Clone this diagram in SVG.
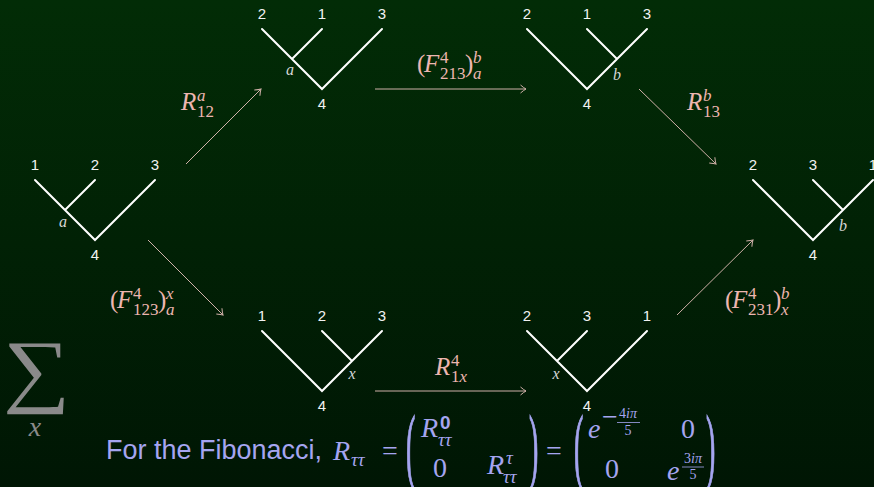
<svg xmlns="http://www.w3.org/2000/svg" width="874" height="487" viewBox="0 0 874 487">
<defs>
<linearGradient id="bg" x1="0" y1="0" x2="0" y2="1">
<stop offset="0" stop-color="#022c06"/>
<stop offset="1" stop-color="#001604"/>
</linearGradient>
<marker id="arr" markerUnits="userSpaceOnUse" markerWidth="12" markerHeight="12" viewBox="-8 -6 10 12" refX="0" refY="0" orient="auto">
<path d="M-5.5,-4 Q-2,-1 0,0 Q-2,1 -5.5,4" fill="none" stroke="#cfb0a8" stroke-width="1"/>
</marker>
<style>
.tree{fill:none;stroke:#ffffff;stroke-width:2;stroke-linecap:round;stroke-linejoin:miter}
.num{font-family:"Liberation Sans",Arial,sans-serif;font-size:15px;fill:#f2f2f2;text-anchor:middle}
.lab{font-family:"Liberation Serif","Times New Roman",serif;font-style:italic;font-size:16px;fill:#d6d6d6;text-anchor:middle}
.conn{stroke:#cfb0a8;stroke-width:1;fill:none;marker-end:url(#arr)}
.al{font-family:"Liberation Serif","Times New Roman",serif;fill:#edb6b0;font-size:25px}
.as{font-size:17px}
.it{font-style:italic}
.m{font-family:"Liberation Serif","Times New Roman",serif;fill:#a5a5f0;font-size:28px}
.ms{font-size:19px}
.mss{font-size:14px}
.sb{font-family:"Liberation Sans",Arial,sans-serif;font-weight:bold}
.par{stroke:#a5a5f0;stroke-width:0.5}
</style>
</defs>
<rect x="0" y="0" width="874" height="487" fill="url(#bg)"/>

<g id="connectors">
<line class="conn" x1="186" y1="164" x2="261" y2="89"/>
<line class="conn" x1="375" y1="89" x2="526" y2="89"/>
<line class="conn" x1="639" y1="89" x2="716" y2="164"/>
<line class="conn" x1="148" y1="240" x2="223" y2="315"/>
<line class="conn" x1="375" y1="391" x2="526" y2="391"/>
<line class="conn" x1="677" y1="315" x2="753" y2="240"/>
<text class="al it" x="181" y="110">R</text>
<text class="al as it" x="197" y="101">a</text>
<text class="al as" x="197" y="117">12</text>
<text class="al" x="417" y="72">(</text>
<text class="al it" x="424" y="72">F</text>
<text class="al as" x="440" y="63">4</text>
<text class="al as" x="440" y="79">213</text>
<text class="al" x="465" y="72">)</text>
<text class="al as it" x="473" y="63">b</text>
<text class="al as it" x="473" y="79">a</text>
<text class="al it" x="687" y="110">R</text>
<text class="al as it" x="703" y="101">b</text>
<text class="al as" x="703" y="117">13</text>
<text class="al" x="110" y="308">(</text>
<text class="al it" x="117" y="308">F</text>
<text class="al as" x="133" y="299">4</text>
<text class="al as" x="133" y="315">123</text>
<text class="al" x="158" y="308">)</text>
<text class="al as it" x="166" y="299">x</text>
<text class="al as it" x="166" y="315">a</text>
<text class="al it" x="435" y="375">R</text>
<text class="al as" x="451" y="366">4</text>
<text class="al as" x="451" y="382">1<tspan class="it">x</tspan></text>
<text class="al" x="725" y="308">(</text>
<text class="al it" x="732" y="308">F</text>
<text class="al as" x="748" y="299">4</text>
<text class="al as" x="748" y="315">231</text>
<text class="al" x="773" y="308">)</text>
<text class="al as it" x="781" y="299">b</text>
<text class="al as it" x="781" y="315">x</text>
</g>

<g id="tree-start">
<path class="tree" d="M35,180 L95,240 L155,180 M95,180 L65,210"/>
<text class="num" x="35" y="170">1</text>
<text class="num" x="95" y="170">2</text>
<text class="num" x="155" y="170">3</text>
<text class="num" x="95" y="260">4</text>
<text class="lab" x="63" y="227">a</text>
</g>

<g id="tree-top-left">
<path class="tree" d="M262,29 L322,89 L382,29 M322,29 L292,59"/>
<text class="num" x="262" y="19">2</text>
<text class="num" x="322" y="19">1</text>
<text class="num" x="382" y="19">3</text>
<text class="num" x="322" y="109">4</text>
<text class="lab" x="290" y="75">a</text>
</g>

<g id="tree-top-right">
<path class="tree" d="M527,29 L587,89 L647,29 M587,29 L617,59"/>
<text class="num" x="527" y="19">2</text>
<text class="num" x="587" y="19">1</text>
<text class="num" x="647" y="19">3</text>
<text class="num" x="587" y="109">4</text>
<text class="lab" x="617" y="80">b</text>
</g>

<g id="tree-end">
<path class="tree" d="M753,180 L813,240 L873,180 M813,180 L843,210"/>
<text class="num" x="753" y="170">2</text>
<text class="num" x="813" y="170">3</text>
<text class="num" x="873" y="170">1</text>
<text class="num" x="813" y="260">4</text>
<text class="lab" x="843" y="231">b</text>
</g>

<g id="tree-bottom-left">
<path class="tree" d="M262,331 L322,391 L382,331 M322,331 L352,361"/>
<text class="num" x="262" y="321">1</text>
<text class="num" x="322" y="321">2</text>
<text class="num" x="382" y="321">3</text>
<text class="num" x="322" y="411">4</text>
<text class="lab" x="352" y="379">x</text>
</g>

<g id="tree-bottom-right">
<path class="tree" d="M527,331 L587,391 L647,331 M587,331 L557,361"/>
<text class="num" x="527" y="321">2</text>
<text class="num" x="587" y="321">3</text>
<text class="num" x="647" y="321">1</text>
<text class="num" x="587" y="411">4</text>
<text class="lab" x="556" y="379">x</text>
</g>

<g id="sum">
<text transform="translate(3,397) scale(1.18,1.02)" font-family="Liberation Serif, serif" font-size="80" fill="#8a8a8a">∑</text>
<text x="35" y="436" font-family="Liberation Serif, serif" font-style="italic" font-size="28" fill="#8a8a8a" text-anchor="middle">x</text>
</g>

<g id="formula">
<text x="106" y="459" font-family="Liberation Sans, Arial, sans-serif" font-size="27" fill="#a5a5f0">For the Fibonacci,</text>
<text class="m it" x="333" y="460">R</text>
<text class="m ms it" x="351" y="466">ττ</text>
<text class="m" x="382" y="460">=</text>
<text class="m par" transform="translate(406,474) scale(1,3)">(</text>
<text class="m it" x="421" y="437">R</text>
<text class="m ms sb" x="440" y="429">0</text>
<text class="m ms it" x="438" y="446">ττ</text>
<text class="m" x="440" y="477" text-anchor="middle">0</text>
<text class="m it" x="487" y="474">R</text>
<text class="m ms it" x="506" y="464">τ</text>
<text class="m ms it" x="503" y="483">ττ</text>
<text class="m par" transform="translate(529,474) scale(1,3)">)</text>
<text class="m" x="546" y="460">=</text>
<text class="m par" transform="translate(574,474) scale(1,3)">(</text>
<text class="m it" x="588" y="438">e</text>
<text class="m" font-size="17" x="602" y="426">−</text>
<text class="m mss" x="628" y="418" text-anchor="middle">4<tspan class="it">iπ</tspan></text>
<line x1="617" y1="422.5" x2="640" y2="422.5" stroke="#a5a5f0" stroke-width="0.8"/>
<text class="m mss" x="628" y="435" text-anchor="middle">5</text>
<text class="m" x="688" y="438" text-anchor="middle">0</text>
<text class="m" x="612" y="478" text-anchor="middle">0</text>
<text class="m it" x="667" y="480">e</text>
<text class="m mss" x="693" y="463" text-anchor="middle">3<tspan class="it">iπ</tspan></text>
<line x1="682" y1="467" x2="704" y2="467" stroke="#a5a5f0" stroke-width="0.8"/>
<text class="m mss" x="693" y="479" text-anchor="middle">5</text>
<text class="m par" transform="translate(706,474) scale(1,3)">)</text>
</g>
</svg>
